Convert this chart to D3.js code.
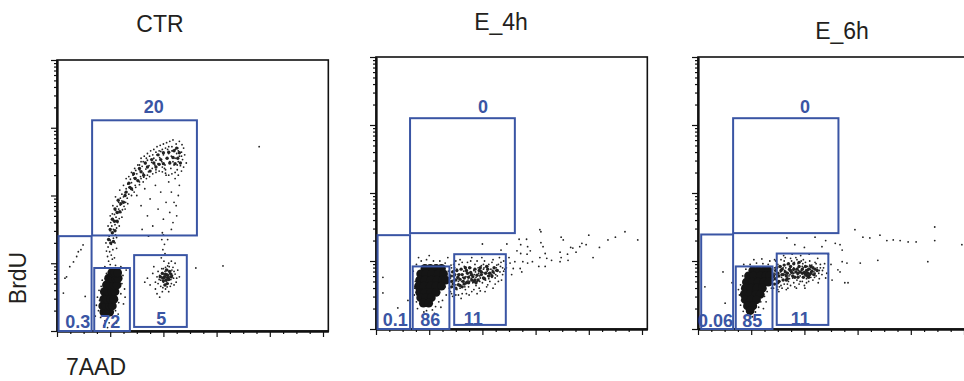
<!DOCTYPE html>
<html>
<head>
<meta charset="utf-8">
<script src="https://cdn.jsdelivr.net/npm/d3@7"></script>
<style>
  body { margin: 0; background: #fff; }
  text { font-family: Arial, "Liberation Sans", sans-serif; }
</style>
</head>
<body>
<svg id="vis"></svg>
<script>
// ---- data (all positions in log decades: x = 7AAD, y = BrdU) ----
const panelNames = ['CTR', 'E_4h', 'E_6h'];

// gates: [x0, x1, y0, y1]  order: S-phase, sub-G1, G1, G2
const ctrGates = [[0.66, 2.63, 1.41, 3.11], [0.03, 0.65, 0, 1.40], [0.70, 1.37, 0, 0.93], [1.45, 2.44, 0.06, 1.12]];
const e4Gates  = [[0.64, 2.61, 1.41, 3.10], [0.03, 0.64, 0, 1.38], [0.69, 1.38, 0, 0.92], [1.47, 2.44, 0.06, 1.10]];
const e6Gates  = [[0.66, 2.64, 1.41, 3.10], [0.06, 0.66, 0, 1.39], [0.71, 1.40, 0, 0.92], [1.48, 2.45, 0.06, 1.11]];

const ctrPct = ['20', '0.3', '72', '5'];
const e4Pct  = ['0', '0.1', '86', '11'];
const e6Pct  = ['0', '0.06', '85', '11'];

const ctrLabelAt = [[1.82, 3.22], [0.39, 0.04], [1.00, 0.04], [1.96, 0.09]];
const e4LabelAt  = [[2.01, 3.18], [0.36, 0.04], [1.02, 0.04], [1.83, 0.06]];
const e6LabelAt  = [[2.01, 3.18], [0.33, 0.03], [1.02, 0.03], [1.92, 0.06]];

// dense cores (drawn as heavy dots)
const ctrCore = [
  [0.88,0.28],[0.94,0.27],[0.99,0.28],
  [0.86,0.37],[0.92,0.37],[0.99,0.37],[1.04,0.37],
  [0.88,0.47],[0.94,0.47],[1.01,0.47],[1.07,0.47],
  [0.89,0.58],[0.96,0.58],[1.03,0.58],[1.09,0.58],
  [0.93,0.68],[1.00,0.68],[1.07,0.68],[1.13,0.68],
  [0.97,0.78],[1.03,0.78],[1.10,0.78],[1.15,0.78],
  [1.03,0.86],[1.09,0.86],[1.14,0.86]
];
const e4Core = [
  [0.92,0.89],[1.02,0.89],[1.13,0.89],[1.23,0.89],
  [0.84,0.81],[0.94,0.81],[1.05,0.81],[1.17,0.81],[1.27,0.81],
  [0.82,0.72],[0.92,0.72],[1.03,0.72],[1.15,0.72],[1.25,0.72],[1.31,0.72],
  [0.80,0.63],[0.90,0.63],[1.02,0.63],[1.13,0.63],[1.23,0.63],
  [0.82,0.54],[0.92,0.54],[1.03,0.54],[1.13,0.54],
  [0.84,0.46],[0.94,0.46],[1.04,0.46],
  [0.89,0.38],[0.99,0.38]
];
const e6Core = [
  [1.03,0.86],[1.13,0.86],[1.24,0.86],[1.32,0.86],
  [0.95,0.78],[1.05,0.78],[1.17,0.78],[1.28,0.78],[1.35,0.78],
  [0.91,0.69],[1.02,0.69],[1.13,0.69],[1.24,0.69],[1.32,0.69],
  [0.89,0.60],[1.00,0.60],[1.11,0.60],[1.21,0.60],
  [0.87,0.51],[0.98,0.51],[1.09,0.51],[1.17,0.51],
  [0.89,0.43],[1.00,0.43],[1.10,0.43],
  [0.93,0.34],[1.03,0.34],
  [0.98,0.27]
];

// medium density events
const ctrMid = [
  [1.01,1.30],[1.04,1.45],[1.08,1.62],[1.13,1.75],[1.20,1.88],[1.28,2.00],[1.37,2.12],[1.47,2.25],
  [1.58,2.35],[1.70,2.42],[1.82,2.48],[1.95,2.53],[2.07,2.55],[2.18,2.56],[2.27,2.55],
  [0.97,1.35],[1.06,1.32],[1.00,1.50],[1.09,1.48],[1.04,1.65],[1.13,1.62],[1.09,1.80],[1.18,1.76],
  [1.15,1.93],[1.25,1.90],[1.30,2.05],[1.35,2.18],[1.40,2.10],[1.44,2.32],[1.52,2.22],[1.55,2.40],
  [1.63,2.30],[1.66,2.48],[1.75,2.36],[1.78,2.53],[1.86,2.42],[1.90,2.60],[1.92,2.46],[2.00,2.63],
  [2.00,2.47],[2.10,2.64],[2.12,2.48],[2.20,2.66],[2.22,2.47],[2.30,2.63],[2.32,2.48],[2.25,2.70],
  [2.02,0.80],[2.08,0.82],[2.05,0.75],[1.98,0.85],[2.10,0.76],[2.00,0.74],[2.12,0.88],[1.94,0.80],
  [2.06,0.90],[2.15,0.80],[2.03,0.68],[2.04,0.84],[2.09,0.78],[1.99,0.78],[2.07,0.70],[2.14,0.84]
];
const e4Mid = [
  [1.42,0.70],[1.50,0.72],[1.58,0.73],[1.66,0.75],[1.74,0.76],[1.82,0.77],[1.90,0.79],[1.98,0.80],
  [2.06,0.82],[2.14,0.82],[1.46,0.78],[1.55,0.65],[1.62,0.80],[1.70,0.68],[1.78,0.83],[1.86,0.72],
  [1.94,0.86],[2.02,0.75],[2.10,0.88],
  [1.42,0.62],[1.44,0.84],[1.50,0.60],[1.52,0.86],[1.58,0.64],[1.60,0.88],[1.66,0.66],[1.68,0.90],
  [1.74,0.68],[1.76,0.90],[1.84,0.70],[1.86,0.88],[1.92,0.72],[1.96,0.90],[2.04,0.74],[2.08,0.92],
  [2.18,0.78],[2.22,0.90],[1.40,0.78],[1.48,0.80],[1.56,0.80],[1.64,0.70],[1.72,0.82],[1.80,0.72],
  [1.45,0.66],[1.54,0.76],[1.62,0.62],[1.70,0.86],[1.80,0.80],[1.88,0.68],[1.98,0.84],[2.12,0.78],
  [2.20,0.84],[2.28,0.86]
];
const e6Mid = [
  [1.45,0.74],[1.52,0.78],[1.60,0.80],[1.68,0.82],[1.76,0.83],[1.84,0.84],[1.92,0.84],[2.00,0.83],
  [2.06,0.82],[2.10,0.80],[2.04,0.86],[1.50,0.68],[1.58,0.88],[1.66,0.72],[1.74,0.92],[1.82,0.76],
  [1.90,0.92],[1.98,0.76],[2.14,0.85],[2.20,0.88],
  [1.44,0.66],[1.46,0.86],[1.52,0.70],[1.54,0.92],[1.60,0.72],[1.62,0.94],[1.68,0.74],[1.70,0.96],
  [1.78,0.78],[1.80,0.96],[1.88,0.76],[1.90,0.98],[1.96,0.82],[2.02,0.92],[2.08,0.76],[2.12,0.92],
  [2.18,0.80],[2.24,0.86],[1.42,0.78],[1.50,0.82],[1.58,0.80],[1.66,0.78],[1.74,0.86],[1.86,0.88],
  [1.48,0.90],[1.56,0.86],[1.64,0.84],[1.72,0.88],[1.80,0.88],[1.88,0.82],[1.96,0.88],[2.02,0.80],
  [2.08,0.88],[2.12,0.82],[2.16,0.90],[2.06,0.78]
];

// single events
const ctrDots = [
  // G1 halo
  [0.78,0.30],[0.80,0.45],[0.79,0.60],[0.82,0.20],[0.90,0.15],[0.98,0.12],[1.05,0.20],[1.10,0.30],
  [1.16,0.42],[1.20,0.55],[1.22,0.70],[1.24,0.82],[1.20,0.95],[1.10,0.97],[1.00,0.93],[0.93,0.85],
  [0.85,0.75],[0.83,0.66],[0.76,0.50],[1.27,0.62],[1.25,0.40],[0.88,0.08],[1.15,0.25],[0.74,0.38],
  [1.30,0.90],[0.72,0.22],[1.28,0.50],[0.95,0.05],[1.12,0.12],[0.90,0.95],
  // G1 to S streak
  [1.00,0.98],[0.97,1.03],[1.04,1.06],[0.95,1.10],[1.02,1.12],[1.08,1.08],[0.99,1.17],[1.05,1.20],
  [0.96,1.24],[1.02,1.28],[1.09,1.30],[1.00,1.34],[1.06,1.37],[0.98,1.40],[1.04,1.44],[1.10,1.42],
  [0.93,1.18],[1.12,1.22],
  // S arc, lower
  [1.00,1.48],[1.06,1.50],[1.12,1.52],[1.03,1.55],[1.09,1.57],[1.01,1.60],[1.07,1.62],[1.14,1.60],
  [1.05,1.66],[1.11,1.68],[1.17,1.66],[1.08,1.72],[1.14,1.74],[1.04,1.73],[1.20,1.75],[1.10,1.78],
  [1.16,1.80],[1.23,1.79],[1.13,1.84],[1.19,1.86],[1.26,1.84],[1.16,1.90],[1.22,1.92],[1.29,1.90],
  [1.19,1.96],[1.25,1.98],[1.32,1.96],[1.22,2.02],[1.28,2.04],[1.35,2.02],
  [0.92,1.30],[1.12,1.38],[0.96,1.55],[1.17,1.55],[1.00,1.70],[1.22,1.68],[1.05,1.85],[1.28,1.80],
  [1.10,1.98],[1.33,1.88],[1.18,2.08],[1.40,2.00],[1.25,2.15],[1.30,2.25],
  // S arc, middle
  [1.30,2.10],[1.36,2.12],[1.42,2.08],[1.33,2.17],[1.40,2.19],[1.47,2.15],[1.38,2.24],[1.45,2.26],
  [1.52,2.21],[1.43,2.30],[1.50,2.32],[1.57,2.28],[1.48,2.37],[1.55,2.38],[1.62,2.33],[1.60,2.43],
  [1.67,2.39],[1.72,2.35],[1.66,2.47],[1.73,2.44],[1.79,2.40],[1.70,2.52],[1.78,2.49],[1.84,2.45],
  [1.35,2.28],[1.58,2.50],[1.45,2.05],[1.63,2.27],
  // S arc, upper right
  [1.86,2.52],[1.90,2.47],[1.93,2.56],[1.97,2.50],[2.00,2.60],[2.03,2.45],[2.06,2.55],[2.10,2.62],
  [2.12,2.50],[2.15,2.58],[2.18,2.66],[2.20,2.45],[2.22,2.55],[2.25,2.62],[2.27,2.70],[2.28,2.50],
  [2.30,2.58],[2.32,2.44],[2.34,2.64],[2.36,2.53],[1.88,2.60],[1.95,2.65],[2.08,2.68],[2.16,2.72],
  [2.24,2.76],[2.02,2.40],[2.14,2.40],[2.26,2.38],[1.82,2.55],[2.40,2.60],[2.38,2.70],[2.43,2.48],
  // S arc, upper and lower edges
  [1.40,2.34],[1.46,2.40],[1.52,2.45],[1.58,2.55],[1.64,2.58],[1.70,2.62],[1.76,2.66],[1.82,2.68],
  [1.88,2.72],[1.94,2.74],[2.00,2.76],[2.06,2.78],[2.12,2.80],[2.18,2.82],[2.30,2.80],[2.35,2.75],
  [1.48,2.12],[1.55,2.16],[1.62,2.20],[1.68,2.25],[1.74,2.28],[1.80,2.32],[1.86,2.34],[1.92,2.36],
  [1.98,2.35],[2.04,2.33],[2.10,2.30],[2.16,2.32],[2.22,2.34],[2.28,2.30],[2.34,2.36],[2.38,2.42],
  [1.55,2.45],[1.62,2.50],[1.68,2.55],[1.74,2.58],[1.80,2.60],[1.86,2.64],[1.92,2.66],[1.98,2.68],
  [2.04,2.70],[2.10,2.72],[2.16,2.66],[2.22,2.68],[2.28,2.66],[2.34,2.58],[2.04,2.38],[1.86,2.38],
  [1.70,2.30],[1.58,2.25],[1.98,2.42],[2.18,2.50],[2.26,2.45],
  // inside the arc
  [1.50,2.00],[1.58,1.85],[1.65,2.10],[1.70,1.70],[1.75,1.95],[1.80,1.55],[1.85,2.15],[1.90,1.80],
  [1.95,2.05],[1.98,1.45],[2.00,1.65],[2.05,1.90],[2.10,2.20],[2.12,1.75],[2.15,2.05],[2.18,1.60],
  [2.20,1.90],[2.22,2.25],[2.25,1.70],[2.28,2.00],[2.30,2.15],[1.60,1.50],[1.72,1.40],[2.08,1.35],
  [2.15,1.50],[2.24,1.85],[1.55,2.20],[2.05,2.30],
  // S to G2 streak
  [2.00,1.42],[1.97,1.35],[2.02,1.28],[1.99,1.20],[2.03,1.14],[1.96,1.08],[2.01,1.03],
  // G2
  [2.00,0.80],[2.05,0.82],[2.10,0.78],[1.98,0.86],[2.03,0.88],[2.08,0.90],[2.12,0.85],[1.95,0.75],
  [2.00,0.72],[2.06,0.74],[2.14,0.76],[2.02,0.68],[2.09,0.70],[1.93,0.82],[2.17,0.82],[2.04,0.94],
  [2.11,0.95],[1.97,0.92],[2.07,0.65],[1.99,0.64],[2.15,0.70],[2.20,0.88],[1.90,0.70],[2.18,0.94],
  [2.01,0.84],[2.06,0.79],[2.04,0.76],[2.08,0.84],[1.96,0.80],[2.12,0.80],[2.02,0.78],[2.10,0.88],
  [1.70,0.78],[1.75,0.68],[1.80,0.85],[1.85,0.62],[1.82,0.95],[1.88,0.55],[2.24,0.72],[2.27,0.90],
  [2.22,1.00],[2.15,1.03],[1.93,0.50],[2.10,0.58],[1.65,0.72],[2.30,0.80],
  [1.90,0.88],[1.92,0.76],[1.95,0.66],[2.00,0.92],[2.04,0.62],[2.08,0.96],[2.13,0.66],[2.16,0.90],
  [2.19,0.78],[2.22,0.84],[1.88,0.80],[1.85,0.72],[2.25,0.78],[2.10,1.00],[1.98,0.58],[2.20,0.68],
  // sub-G1 and outliers
  [0.49,1.27],[0.40,1.17],[0.37,1.10],[0.31,1.02],[0.24,0.95],[0.18,0.80],[0.15,0.78],[0.12,0.56],
  [0.53,0.51],[0.45,1.20],
  [3.80,2.72],[2.61,0.93],[3.12,0.96]
];

const e4Dots = [
  // G1 halo
  [0.72,0.50],[0.74,0.70],[0.70,0.85],[0.76,0.95],[0.85,1.00],[0.95,1.02],[1.08,1.00],[1.20,1.00],
  [1.30,0.97],[1.36,0.85],[1.38,0.60],[1.32,0.50],[1.25,0.42],[1.18,0.40],[1.12,0.33],[1.06,0.28],
  [0.95,0.27],[0.90,0.25],[0.78,0.30],[0.76,0.40],[1.40,0.75],[1.42,0.90],[1.35,1.05],[0.80,1.05],
  [1.00,1.08],[0.98,0.20],[1.10,0.23],[0.73,0.60],[1.22,0.32],[1.30,0.62],
  // G2 tail
  [1.40,0.55],[1.43,0.62],[1.45,0.85],[1.48,0.90],[1.50,0.50],[1.52,0.58],[1.54,0.80],[1.56,0.95],
  [1.58,0.60],[1.60,0.88],[1.62,0.52],[1.64,0.66],[1.66,0.92],[1.68,0.58],[1.70,0.84],[1.72,0.98],
  [1.74,0.62],[1.76,0.70],[1.78,0.90],[1.80,0.55],[1.82,0.68],[1.84,0.86],[1.86,0.95],[1.88,0.64],
  [1.90,0.70],[1.92,0.90],[1.94,0.60],[1.96,0.75],[1.98,0.93],[2.00,0.68],[2.02,0.88],[2.04,1.00],
  [2.06,0.72],[2.08,0.62],[2.10,0.78],[2.12,0.95],[2.14,0.70],[2.16,0.88],[2.18,0.76],[2.20,1.02],
  [2.22,0.82],[2.24,0.66],[2.26,0.90],[2.28,0.78],[2.30,0.95],[2.33,0.84],[2.36,0.72],[2.38,0.90],
  [2.40,1.00],[1.47,0.68],[1.53,0.74],[1.61,0.70],[1.69,0.77],[1.77,0.79],[1.85,0.80],[1.93,0.82],
  [2.01,0.83],[2.09,0.85],[2.17,0.80],[2.25,0.86],[1.44,0.48],[1.60,0.45],[1.75,0.50],[1.90,0.52],
  [2.05,0.55],[2.20,0.60],[1.58,1.02],[1.80,1.05],[1.52,0.88],[1.67,0.62],[1.88,0.76],[2.12,0.74],
  [1.73,0.72],[1.97,0.86],[1.41,0.94],[1.99,1.05],[2.32,1.05],
  [1.42,0.52],[1.46,0.95],[1.50,1.00],[1.55,0.50],[1.62,0.98],[1.70,0.52],[1.78,1.00],[1.84,0.58],
  [1.90,1.00],[1.96,0.56],[2.02,0.95],[2.10,0.65],[2.18,0.98],[2.24,0.75],[2.30,0.70],[2.34,0.92],
  [2.38,0.80],[2.42,0.88],[2.44,0.95],[1.45,0.72],[1.55,0.70],[1.63,0.76],[1.71,0.70],[1.79,0.74],
  [1.87,0.84],[1.95,0.78],[2.03,0.90],[2.11,0.82],[2.19,0.86],[2.27,0.94],[2.35,0.98],[1.50,0.65],
  [1.65,0.85],[1.80,0.80],[1.95,0.70],[2.10,0.92],[2.25,0.80],[2.40,0.85],
  // sparse band rising to the right
  [3.10,1.43],[3.48,1.35],[3.52,1.31],[4.00,1.38],[4.68,1.43],[4.92,1.31],[4.36,1.31],[2.69,1.32],
  [2.83,1.32],[3.10,1.27],[3.14,1.21],[2.72,1.24],[2.46,1.25],[2.85,1.21],[3.87,1.26],[3.95,1.24],
  [3.83,1.21],[3.66,1.20],[3.76,1.13],[3.60,1.10],[3.46,1.13],[3.48,1.05],[3.30,1.01],[3.21,1.04],
  [3.08,1.05],[3.18,1.11],[3.06,0.92],[3.18,0.92],[2.94,0.99],[2.85,0.97],[2.72,1.11],[2.84,1.10],
  [2.76,0.99],[2.61,0.99],[2.52,0.97],[2.58,0.89],[2.71,0.89],[2.74,0.84],[3.61,1.01],[3.46,0.99],
  [4.08,1.05],[2.00,1.25],[2.35,1.16],[3.70,1.19],[3.08,1.46],[2.50,1.05],[2.45,0.90],[2.55,0.80],
  [2.65,1.15],[2.90,1.15],[4.20,1.20],[4.50,1.35],
  // sub-G1
  [0.13,0.76],[0.13,0.53],[0.41,0.31],[0.60,0.42]
];

const e6Dots = [
  // G1 halo
  [0.80,0.35],[0.78,0.50],[0.80,0.65],[0.84,0.78],[0.90,0.88],[0.98,0.95],[1.10,0.97],[1.22,0.96],
  [1.32,0.95],[1.40,0.88],[1.42,0.72],[1.38,0.60],[1.30,0.55],[1.25,0.48],[1.18,0.40],[1.14,0.32],
  [1.08,0.25],[1.02,0.18],[0.92,0.20],[0.85,0.26],[0.82,0.42],[0.76,0.58],[1.45,0.80],[1.35,1.00],
  [1.05,1.02],[1.20,1.03],[0.95,0.12],[1.28,0.40],[1.23,0.30],[0.86,0.95],
  // G2 tail
  [1.42,0.60],[1.44,0.90],[1.46,1.00],[1.48,0.62],[1.50,0.95],[1.52,0.55],[1.54,0.70],[1.56,1.02],
  [1.58,0.60],[1.60,0.90],[1.62,0.66],[1.64,1.05],[1.66,0.58],[1.68,0.95],[1.70,0.70],[1.72,0.86],
  [1.74,0.64],[1.76,1.00],[1.78,0.75],[1.80,0.90],[1.82,0.62],[1.84,1.05],[1.86,0.72],[1.88,0.96],
  [1.90,0.66],[1.92,0.78],[1.94,1.00],[1.96,0.70],[1.98,0.90],[2.00,0.64],[2.02,0.98],[2.04,0.74],
  [2.06,0.92],[2.08,0.70],[2.10,1.00],[2.12,0.76],[2.14,0.94],[2.16,0.72],[2.18,0.84],[2.20,0.98],
  [2.22,0.78],[2.24,0.90],[2.26,0.68],[2.28,0.86],[2.30,0.95],[2.33,0.80],[2.36,0.90],[2.40,0.75],
  [1.47,0.82],[1.55,0.84],[1.63,0.86],[1.71,0.78],[1.79,0.86],[1.87,0.80],[1.95,0.86],[2.03,0.78],
  [2.11,0.88],[2.19,0.76],[2.27,0.82],[1.53,0.62],[1.69,0.60],[1.85,0.60],[2.01,0.60],[1.61,1.08],
  [1.77,1.10],[1.93,1.08],[2.09,1.10],[2.25,1.04],[1.43,0.82],[1.57,0.76],[1.73,0.80],[1.89,0.86],
  [2.07,0.86],[1.65,0.90],[1.81,0.98],[1.97,0.96],
  [1.44,1.02],[1.50,0.58],[1.56,0.64],[1.62,1.00],[1.68,0.66],[1.74,1.04],[1.80,0.68],[1.86,1.02],
  [1.92,0.70],[1.98,1.02],[2.04,0.68],[2.10,0.94],[2.16,0.80],[2.22,0.96],[2.28,0.74],[2.34,0.86],
  [2.38,0.96],[2.42,0.82],[1.48,0.76],[1.56,0.92],[1.64,0.80],[1.72,0.74],[1.80,0.82],[1.88,0.90],
  [1.96,0.92],[2.04,0.82],[2.12,0.84],[2.20,0.82],[2.30,0.90],
  // sparse events above and right
  [1.67,1.34],[2.20,1.35],[2.67,1.24],[3.10,1.35],[3.42,1.38],[3.67,1.31],[3.95,1.28],[4.45,1.50],
  [4.96,1.24],[4.32,0.99],[3.38,1.01],[3.05,0.97],[2.76,0.68],[2.67,0.84],[1.82,1.24],[2.33,1.21],
  [2.58,1.26],[2.71,1.16],[2.95,1.46],[3.23,1.34],[2.80,0.97],[2.63,0.87],[2.52,0.72],[2.71,0.99],
  [2.82,0.68],[2.45,1.10],[2.50,0.95],[3.55,1.30],[4.45,1.30],[4.10,1.28],[2.00,1.20],[2.40,1.30],
  [3.80,1.30],
  // sub-G1
  [0.47,0.84],[0.13,0.62],[0.64,0.68],[0.51,0.38]
];

const panelGates = [ctrGates, e4Gates, e6Gates];
const panelPct = [ctrPct, e4Pct, e6Pct];
const panelLabelAt = [ctrLabelAt, e4LabelAt, e6LabelAt];
const panelCore = [ctrCore, e4Core, e6Core];
const panelMid = [ctrMid, e4Mid, e6Mid];
const panelDots = [ctrDots, e4Dots, e6Dots];

const xMajor = [0, 1, 2, 3, 4, 5];
const yMajor = [0, 1, 2, 3, 4];

// ---- layout ----
const width = 964, height = 381;
const decade = 53.2;
const panelLeft = [57, 376, 698];
const panelTop = [60, 57, 57];
const panelBottom = [331, 329, 329];
const titlePos = [[160, 31.7], [501, 30], [842, 39]];
const gateBlue = '#3a55a4';

const svg = d3.select('#vis').attr('width', width).attr('height', height);

// minor ticks: quarters along x, log steps along y
const xMinor = [];
xMajor.slice(0, -1).forEach(d => [0.25, 0.5, 0.75].forEach(f => xMinor.push(d + f)));
const yMinor = [];
yMajor.slice(0, -1).forEach(d => d3.range(2, 10).forEach(k => yMinor.push(d + Math.log10(k))));

panelNames.forEach((name, i) => {
  const x = d3.scaleLinear().domain([0, 5.1]).range([panelLeft[i], panelLeft[i] + 5.1 * decade]);
  const y = d3.scaleLinear().domain([0, 4]).range([panelBottom[i], panelTop[i]]);
  const g = svg.append('g');

  // events
  g.selectAll('circle.core').data(panelCore[i]).enter().append('circle')
    .attr('cx', d => x(d[0])).attr('cy', d => y(d[1])).attr('r', 4.4).attr('fill', '#151515');
  g.selectAll('circle.mid').data(panelMid[i]).enter().append('circle')
    .attr('cx', d => x(d[0])).attr('cy', d => y(d[1])).attr('r', 1.7).attr('fill', '#222');
  g.selectAll('circle.dot').data(panelDots[i]).enter().append('circle')
    .attr('cx', d => x(d[0])).attr('cy', d => y(d[1])).attr('r', 0.9).attr('fill', '#222');

  // frame
  g.append('rect')
    .attr('x', x(0)).attr('y', y(4))
    .attr('width', x(5.1) - x(0)).attr('height', y(0) - y(4))
    .attr('fill', 'none').attr('stroke', '#111').attr('stroke-width', 1.6);

  // axes
  const xAxis = g.append('g').attr('transform', `translate(0,${y(0)})`);
  xAxis.call(d3.axisBottom(x).tickValues(xMajor).tickSize(6).tickSizeOuter(0).tickFormat(''));
  xAxis.append('g').call(d3.axisBottom(x).tickValues(xMinor).tickSize(3).tickSizeOuter(0).tickFormat(''));
  const yAxis = g.append('g').attr('transform', `translate(${x(0)},0)`);
  yAxis.call(d3.axisLeft(y).tickValues(yMajor).tickSize(6).tickSizeOuter(0).tickFormat(''));
  yAxis.append('g').call(d3.axisLeft(y).tickValues(yMinor).tickSize(3).tickSizeOuter(0).tickFormat(''));
  g.selectAll('.domain').attr('stroke', '#111').attr('stroke-width', 1.8);
  g.selectAll('.tick line').attr('stroke', '#111').attr('stroke-width', 1.2);

  // gates
  g.selectAll('rect.gate').data(panelGates[i]).enter().append('rect')
    .attr('x', d => x(d[0])).attr('y', d => y(d[3]))
    .attr('width', d => x(d[1]) - x(d[0])).attr('height', d => y(d[2]) - y(d[3]))
    .attr('fill', 'none').attr('stroke', gateBlue).attr('stroke-width', 2);

  g.selectAll('text.pct').data(panelPct[i]).enter().append('text')
    .attr('x', (d, j) => x(panelLabelAt[i][j][0]))
    .attr('y', (d, j) => y(panelLabelAt[i][j][1]))
    .attr('text-anchor', 'middle')
    .attr('font-size', 18).attr('font-weight', 'bold').attr('fill', gateBlue)
    .text(d => d);

  // title
  svg.append('text')
    .attr('x', titlePos[i][0]).attr('y', titlePos[i][1])
    .attr('text-anchor', 'middle').attr('font-size', 23).attr('fill', '#231f20')
    .text(name);
});

svg.append('text')
  .attr('transform', 'translate(26,278) rotate(-90)')
  .attr('text-anchor', 'middle').attr('font-size', 23).attr('fill', '#231f20')
  .text('BrdU');
svg.append('text')
  .attr('x', 96).attr('y', 375)
  .attr('text-anchor', 'middle').attr('font-size', 23).attr('fill', '#231f20')
  .text('7AAD');
</script>
</body>
</html>
